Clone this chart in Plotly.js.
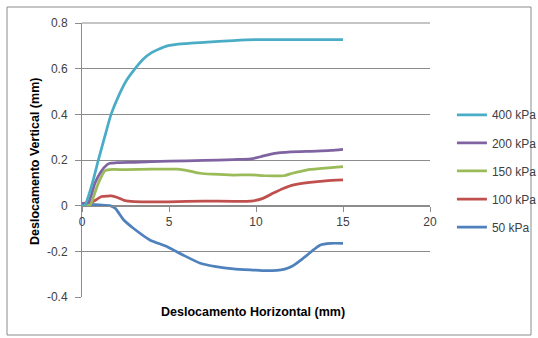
<!DOCTYPE html>
<html>
<head>
<meta charset="utf-8">
<script src="https://cdn.plot.ly/plotly-3.0.1.min.js"></script>
<style>
  html, body { margin: 0; padding: 0; background: #ffffff; }
  #chart { width: 538px; height: 338px; }
</style>
</head>
<body>
<div id="chart"></div>
<script>
// Horizontal vs vertical displacement for each normal stress level
const seriesNames = ["50 kPa", "100 kPa", "150 kPa", "200 kPa", "400 kPa"];

const x50 = [0, 0.5, 1, 1.6, 1.9, 2.4, 2.95, 3.9, 4.9, 5.8, 6.8, 7.7, 8.7, 9.8, 10.6, 11.6, 12.1, 12.7, 13.3, 13.7, 14.3, 15];
const y50 = [0.01, 0.006, 0.003, 0, -0.011, -0.063, -0.099, -0.15, -0.18, -0.216, -0.252, -0.267, -0.277, -0.282, -0.285, -0.279, -0.264, -0.231, -0.194, -0.172, -0.165, -0.165];

const x100 = [0, 0.56, 1.13, 1.5, 1.7, 2.0, 2.47, 3, 5, 7, 9.7, 10.4, 11, 11.6, 12.1, 13.1, 14, 15];
const y100 = [0.01, 0.015, 0.04, 0.042, 0.043, 0.037, 0.022, 0.018, 0.017, 0.02, 0.02, 0.032, 0.055, 0.076, 0.09, 0.102, 0.109, 0.113];

const x150 = [0, 0.46, 0.6, 0.94, 1.32, 1.6, 2.5, 4, 5.5, 6, 6.8, 7.5, 8.7, 9.7, 10.6, 11.6, 12.1, 12.9, 13.8, 15];
const y150 = [0, 0.003, 0.025, 0.098, 0.153, 0.158, 0.158, 0.16, 0.16, 0.155, 0.142, 0.138, 0.134, 0.135, 0.131, 0.131, 0.142, 0.156, 0.163, 0.171];

const x200 = [0, 0.36, 0.75, 1.1, 1.42, 1.61, 2, 3, 5, 7, 8.7, 9.7, 10.3, 10.8, 11.4, 12, 13.5, 14.3, 15];
const y200 = [0.01, 0.013, 0.1, 0.15, 0.178, 0.186, 0.188, 0.19, 0.195, 0.198, 0.202, 0.205, 0.215, 0.225, 0.232, 0.236, 0.239, 0.242, 0.247];

const x400 = [0, 0.17, 0.6, 0.94, 1.3, 1.67, 2.1, 2.57, 3.05, 3.5, 4, 4.9, 6, 7, 8.7, 10, 12, 15];
const y400 = [0, 0.003, 0.1, 0.2, 0.3, 0.4, 0.48, 0.55, 0.6, 0.64, 0.67, 0.70, 0.71, 0.715, 0.723, 0.727, 0.727, 0.727];

const xs = [x50, x100, x150, x200, x400];
const ys = [y50, y100, y150, y200, y400];
const colors = ["#4F81BD", "#C0504D", "#9BBB59", "#8064A2", "#4BACC6"];

const xTickVals = [0, 5, 10, 15, 20];
const yTickVals = [-0.4, -0.2, 0, 0.2, 0.4, 0.6, 0.8];

// highest stress listed first in the legend
const traces = seriesNames.map((name, i) => ({
  type: "scatter",
  mode: "lines",
  name: name,
  legendgroup: name,
  legendrank: seriesNames.length - i,
  x: xs[i],
  y: ys[i],
  line: { color: colors[i], width: 2.75, shape: "spline", smoothing: 0.6 }
}));

const layout = {
  width: 538,
  height: 338,
  margin: { l: 82, r: 108, t: 23, b: 41, autoexpand: false },
  paper_bgcolor: "#ffffff",
  plot_bgcolor: "#ffffff",
  font: { family: "Liberation Sans, Arial, sans-serif", size: 12, color: "#404040" },
  showlegend: true,
  legend: {
    x: 1.063, xanchor: "left",
    y: 0.718, yanchor: "top",
    traceorder: "grouped",
    tracegroupgap: 9.1,
    font: { size: 12, color: "#404040" },
    bgcolor: "rgba(0,0,0,0)"
  },
  xaxis: {
    range: [0, 20],
    tickvals: xTickVals,
    ticktext: xTickVals.map(String),
    showgrid: false,
    zeroline: false,
    showline: true,
    linecolor: "#8c8c8c",
    linewidth: 1,
    ticks: "outside",
    ticklen: 5,
    tickcolor: "#8c8c8c",
    anchor: "free",
    position: 1 / 3,
    tickfont: { size: 12, color: "#404040" }
  },
  yaxis: {
    range: [-0.4, 0.8],
    tickvals: yTickVals,
    ticktext: yTickVals.map(v => v === 0 ? "0" : String(v)),
    showgrid: true,
    gridcolor: "#8c8c8c",
    gridwidth: 1,
    zeroline: false,
    showline: true,
    linecolor: "#8c8c8c",
    linewidth: 1,
    ticks: "outside",
    ticklen: 6,
    tickcolor: "#8c8c8c",
    ticklabelstandoff: 5,
    tickfont: { size: 12, color: "#404040" }
  },
  annotations: [
    {
      text: "<b>Deslocamento Horizontal (mm)</b>",
      xref: "paper", yref: "paper",
      x: 0.491, y: 0, xanchor: "center", yanchor: "top",
      yshift: -6, showarrow: false,
      font: { size: 12.5, color: "#000000" }
    },
    {
      text: "<b>Deslocamento Vertical (mm)</b>",
      xref: "paper", yref: "paper",
      x: 0, y: 0.5, xanchor: "center", yanchor: "middle",
      xshift: -47, yshift: -2, textangle: -90, showarrow: false,
      font: { size: 12.5, color: "#000000" }
    }
  ],
  shapes: [
    {
      // outer chart frame
      type: "rect", xref: "paper", yref: "paper",
      x0: -75 / 348, x1: 449 / 348, y0: -38 / 274, y1: 290 / 274,
      line: { color: "#8c8c8c", width: 1 }, fillcolor: "rgba(0,0,0,0)"
    },
    {
      type: "line", xref: "paper", yref: "paper",
      x0: 0, x1: 1, y0: 1, y1: 1,
      line: { color: "#8c8c8c", width: 1 }
    }
  ]
};

Plotly.newPlot("chart", traces, layout, { displayModeBar: false, staticPlot: true });
</script>
</body>
</html>
